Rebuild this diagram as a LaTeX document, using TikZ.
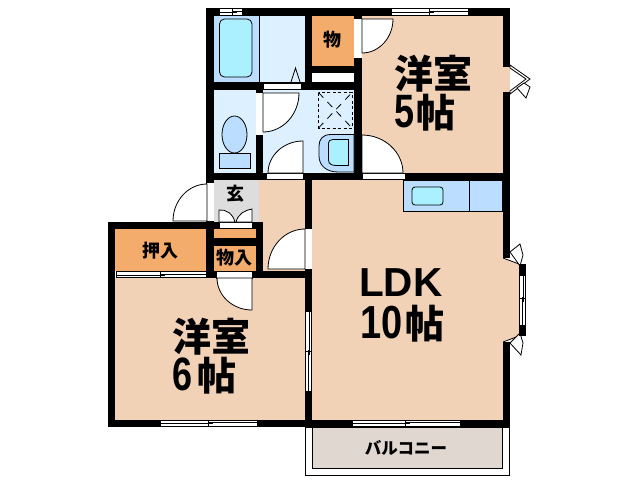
\documentclass[tikz,border=0pt]{standalone}
\usepackage{fontspec}
\setmainfont{Liberation Sans}
\newfontfamily\jp{Noto Sans CJK JP}
\newfontfamily\digitfont{Liberation Sans Bold}
\definecolor{peach}{RGB}{242,210,182}
\definecolor{orng}{RGB}{244,172,108}
\definecolor{bluea}{RGB}{187,221,255}
\definecolor{blueb}{RGB}{221,240,255}
\definecolor{cyanw}{RGB}{170,240,255}
\definecolor{greyg}{RGB}{221,221,221}
\definecolor{balc}{RGB}{224,216,208}
\newcommand\areafill[5]{\fill[#1] (#2,#3) rectangle (#4,#5);}
\newcommand\wall[4]{\fill[black] (#1,#2) rectangle (#3,#4);}
\newcommand\gap[4]{\fill[white] (#1,#2) rectangle (#3,#4);}
\newcommand\door[6]{\filldraw[lineart,fill=white] (#1,#2) -- ({#1+#3},{#2+#4}) .. controls ({#1+#3+0.55*#5},{#2+#4+0.55*#6}) and ({#1+#5+0.55*#3},{#2+#6+0.55*#4}) .. ({#1+#5},{#2+#6}) -- cycle;}
\newcommand\hwin[5]{% x1,x2,ytop,ybot,xmid
 \fill[white] (#1,#3) rectangle (#2,#4);
 \draw[lineart] (#1,#3+.5) -- (#2,#3+.5) (#1,#4-.5) -- (#2,#4-.5) (#1,#3) -- (#1,#4) (#2,#3) -- (#2,#4);
 \draw[lineart] (#1,#3+4.3) -- (#5+5,#3+4.3) (#5,#3+3) -- (#2,#3+3) (#5,#3+.5) -- (#5,#4-.5);}
\newcommand\vwin[5]{% y1,y2,xleft,xright,ymid
 \fill[white] (#3,#1) rectangle (#4,#2);
 \draw[lineart] (#3+.5,#1) -- (#3+.5,#2) (#4-.5,#1) -- (#4-.5,#2) (#3,#1) -- (#4,#1) (#3,#2) -- (#4,#2);
 \draw[lineart] (#3+4.3,#1) -- (#3+4.3,#5+4) (#3+3,#5-1) -- (#3+3,#2) (#3+.5,#5) -- (#4-.5,#5);}
\newcommand\bigdigit[1]{\scalebox{1}[1.3]{\digitfont\fontsize{36}{36}\selectfont #1}}
\newcommand\tightlines{\lineskiplimit -100pt\relax}
\tikzset{
  x=1pt,y=-1pt,
  lineart/.style={draw=black,line width=.8pt},
  dashbox/.style={draw=black,line width=.8pt,dash pattern=on 3pt off 2.5pt},
  dashdiag/.style={draw=black,line width=.8pt,dash pattern=on 7pt off 6pt},
  bigtxt/.style={font=\jp\bfseries\fontsize{39}{39}\selectfont\tightlines,align=left,inner sep=0pt,text=black},
  smalltxt/.style={font=\jp\bfseries\fontsize{18}{18}\selectfont,inner sep=0pt,text=black},
  ldktxt/.style={font=\digitfont\fontsize{40.5}{42}\selectfont\tightlines,align=left,inner sep=0pt,text=black},
}
\begin{document}
\begin{tikzpicture}
\useasboundingbox (0,0) rectangle (640,480);
\fill[white] (0,0) rectangle (640,480);
% room fills
\areafill{peach}{312}{16}{503}{180}
\areafill{peach}{259}{180}{305}{272}
\areafill{peach}{115}{278}{305}{420}
\areafill{peach}{312}{180}{503}{420}
\areafill{bluea}{214}{16}{259}{82}
\areafill{blueb}{259}{16}{305}{82}
\areafill{blueb}{214}{90}{354}{173}
\areafill{orng}{312}{16}{354}{66}
\areafill{white}{312}{73}{354}{82}
\areafill{greyg}{214}{180}{259}{222}
\areafill{orng}{214}{229}{256}{238}
\areafill{orng}{214}{246}{256}{271}
\areafill{orng}{115}{229}{206}{271}
% balcony
\filldraw[lineart,fill=white] (305,427) rectangle (509,475);
\filldraw[lineart,fill=balc] (312,427) rectangle (502.5,468);
% bath fixtures
\draw[lineart] (259,16) -- (259,82);
\filldraw[lineart,fill=cyanw,rounded corners=5pt] (219.5,19) rectangle (252,77);
\filldraw[lineart,fill=blueb] (291,82) -- (295.5,68) -- (300,82);
% kitchen
\filldraw[lineart,fill=bluea] (403,180) rectangle (502.5,211);
\draw[lineart] (469.5,180) -- (469.5,211);
\filldraw[lineart,fill=cyanw,rounded corners=3pt] (412,187) rectangle (443,205);
% walls
\wall{206}{8}{510}{16}
\wall{206}{8}{214}{278}
\wall{206}{82}{362}{90}
\wall{305}{16}{312}{82}
\wall{312}{66}{354}{73}
\wall{354}{16}{362}{180}
\wall{256}{90}{263}{173}
\wall{206}{173}{510}{180}
\wall{502.5}{8}{510}{427}
\wall{305}{173}{312}{427}
\wall{108}{222}{263}{229}
\wall{108}{222}{115}{427}
\wall{206}{238}{263}{246}
\wall{256}{222}{263}{278}
\wall{206}{271}{312}{278}
\wall{108}{419.5}{510}{427}
% windows
\hwin{219}{242}{8}{16}{232}
\hwin{391}{468}{8}{16}{429}
\hwin{160}{257}{419.5}{427}{208}
\hwin{352}{460}{419.5}{427}{405}
\hwin{116}{206}{271}{278}{160}
\vwin{311}{391}{305}{312}{351}
% door gaps
\gap{263}{83}{301}{89}
\gap{354}{19}{362}{58}
\gap{256}{93}{263}{135}
\gap{266}{173.5}{303}{179}
\gap{362}{173.5}{405}{179}
\gap{207}{183}{214}{221}
\gap{219}{222.5}{252}{228}
\gap{216}{271.5}{252}{278}
\gap{305}{229}{312}{269}
\draw[lineart] (263,83) rectangle (301,89) (266,173.5) rectangle (303,179) (362,173.5) rectangle (405,179) (219,222.5) rectangle (252,228) (216,271.5) rectangle (252,278);
% exterior door openings
\fill[peach] (503,67) rectangle (510,92);
\fill[white] (503,258) rectangle (510,342);
\fill[peach] (503,258) -- (519,264) -- (519,336) -- (503,342) -- cycle;
\draw[lineart] (503,258) -- (519,264) (519,336) -- (503,342);
% doors
\door{362}{19}{31}{0}{0}{34}
\door{362}{173}{0}{-38}{41}{0}
\door{263}{93}{36}{0}{0}{39}
\door{303}{173}{0}{-32}{-35}{0}
\door{207}{221}{0}{-37}{-34}{0}
\door{305}{269}{0}{-40}{-37}{0}
\door{252}{278}{-35}{0}{0}{32}
% folding door
\filldraw[lineart,fill=white] (219,222) -- (219,210) .. controls (226,209) and (233,214) .. (235,222) -- cycle;
\filldraw[lineart,fill=white] (252,222) -- (252,209) .. controls (245,210) and (238,214) .. (236,222) -- cycle;
% room 5 door
\filldraw[lineart,fill=white] (510,65) -- (530,79) -- (510,94) -- (510,91) -- (526,79) -- (510,68) -- cycle;
\filldraw[lineart,fill=white] (517,88) -- (524,83) -- (530,87) -- (526,98) -- cycle;
% bay window
\filldraw[lineart,fill=white] (510,252) -- (520,244) -- (523,255) -- (520,266) -- cycle;
\filldraw[lineart,fill=white] (510,343) -- (520,333) -- (523,343) -- (521,355) -- cycle;
\wall{519}{264}{526}{336}
\vwin{275}{325}{519}{526}{298}
% toilet
\filldraw[lineart,fill=bluea] (234.5,134.5) ellipse [x radius=12.5,y radius=18.5];
\filldraw[lineart,fill=bluea] (219.5,153.5) rectangle (250.5,168.5);
% floor drain
\draw[dashbox] (318.5,92.5) rectangle (352,128);
\draw[dashdiag] (318.5,128) -- (352,92.5);
\draw[dashdiag] (318.5,92.5) -- (352,128);
% wash basin
\filldraw[lineart,fill=bluea] (354,134.5) -- (331,134.5) .. controls (322,134.5) and (319,140) .. (319,146) -- (319,156) .. controls (319,166) and (327,172) .. (338,172) -- (354,172) -- cycle;
\filldraw[lineart,fill=cyanw] (348.5,139.5) -- (333,139.5) .. controls (330,139.5) and (328.5,141) .. (328.5,143) -- (328.5,160) .. controls (328.5,164) and (332,165.5) .. (336,165.5) -- (348.5,165.5) -- cycle;
% labels
\node[bigtxt,anchor=west] (r5) at (394,93) {洋室\\\bigdigit{5}\hspace{2pt}帖};
\node[bigtxt,anchor=west] (r6) at (172,356) {洋室\\\bigdigit{6}\hspace{5pt}帖};
\node[ldktxt,anchor=west] (ldk) at (359,305) {LDK\\\hspace{1pt}\scalebox{1}[1.22]{\fontsize{38}{38}\selectfont 10}\hspace{3pt}{\jp\bfseries\fontsize{39}{38}\selectfont 帖}};
\node[smalltxt] (mono) at (332,40) {物};
\node[smalltxt] (gen) at (235,194) {玄};
\node[smalltxt] (oshi) at (160,251) {押入};
\node[smalltxt] (mono2) at (234.5,258) {物入};
\node[font=\jp\bfseries\fontsize{16.5}{16.5}\selectfont,inner sep=0pt] (balcony) at (406,448) {バルコニー};
\end{tikzpicture}
\end{document}
